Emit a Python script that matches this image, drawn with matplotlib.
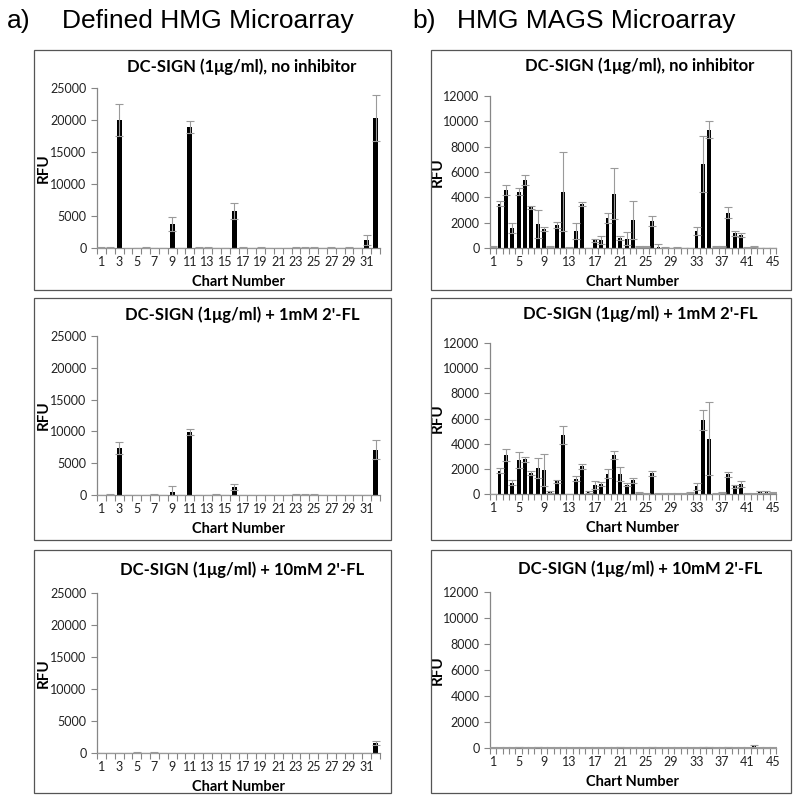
import numpy as np
import matplotlib
matplotlib.use('Agg')
import matplotlib.pyplot as plt
from matplotlib.patches import Rectangle

# ---- data: defined HMG microarray (32 glycans) ----
hmg_no_inh = [50, 100, 20000, -80, 30, 100, 30, 20, 3700, 30, 18900, 50, 80, 40, 30, 5800,
              80, 40, 60, 40, 30, 30, 50, 60, 60, 40, 80, 30, 80, 40, 1300, 20300]
hmg_no_inh_err = [30, 40, 2500, 30, 20, 40, 20, 20, 1100, 20, 1000, 30, 40, 30, 20, 1300,
                  40, 30, 30, 30, 20, 20, 30, 30, 30, 30, 40, 20, 40, 30, 800, 3600]
hmg_1mm = [40, 60, 7400, 30, 30, 30, 60, 30, 450, 30, 9900, 30, 40, 60, 30, 1250,
           40, 30, 30, 30, 40, 30, 60, 60, 60, 30, 30, 40, 40, 30, 40, 7100]
hmg_1mm_err = [20, 30, 1000, 20, 20, 20, 30, 20, 900, 20, 400, 20, 20, 30, 20, 500,
               20, 20, 20, 20, 20, 20, 30, 30, 30, 20, 20, 20, 20, 20, 20, 1500]
hmg_10mm = [40, 40, 30, 30, 80, 30, 80, 30, -50, 30, 30, 30, 30, 30, 30, 30,
            30, 30, 40, 30, 30, 50, 30, 30, 30, 30, 40, 30, 40, 30, 40, 1600]
hmg_10mm_err = [20] * 31 + [350]

# ---- data: HMG MAGS microarray (45 glycans) ----
mags_no_inh = [100, 3500, 4600, 1600, 4450, 5400, 3200, 1900, 1500, 100,
               1800, 4450, 50, 1350, 3500, 0, 600, 650, 2400, 4300,
               800, 750, 2250, 100, 100, 2150, 100, 50, 0, 50,
               0, 0, 1350, 6650, 9350, 100, 100, 2800, 1150, 1000,
               50, 100, 0, 0, 0]
mags_no_inh_err = [50, 200, 400, 400, 300, 400, 150, 1100, 150, 60,
                   250, 3100, 30, 600, 150, 20, 100, 300, 400, 2000,
                   150, 550, 1500, 60, 60, 400, 200, 30, 20, 30,
                   20, 20, 300, 2200, 650, 60, 60, 400, 200, 150,
                   30, 50, 20, 20, 20]
mags_1mm = [0, 1850, 3100, 900, 2700, 2750, 1650, 2050, 1900, 150,
            1000, 4700, 0, 1200, 2200, 150, 700, 800, 1600, 3100,
            1600, 750, 1100, 100, 50, 1650, 50, 50, 50, 50,
            50, 100, 600, 5900, 4400, 50, 100, 1550, 600, 800,
            50, 50, 150, 150, 100]
mags_1mm_err = [20, 200, 500, 200, 600, 200, 150, 800, 1300, 100,
                100, 700, 20, 200, 200, 100, 300, 150, 350, 300,
                550, 150, 200, 60, 30, 200, 30, 30, 30, 30,
                30, 60, 250, 800, 2900, 30, 60, 200, 100, 250,
                30, 30, 50, 50, 50]
mags_10mm = [30, 30, 30, 30, 60, 30, 30, 60, 30, 30,
             30, 30, 30, 30, 30, 30, 30, 30, 30, 30,
             60, 30, 30, 30, 30, 60, 30, 30, 30, 30,
             30, 30, 30, 60, 60, 30, 30, 60, 30, 30,
             30, 150, 30, 30, 30]
mags_10mm_err = [20] * 41 + [100, 20, 20, 20]

titles = ['DC-SIGN (1\u03bcg/ml), no inhibitor',
          'DC-SIGN (1\u03bcg/ml) + 1mM 2\'-FL',
          'DC-SIGN (1\u03bcg/ml) + 10mM 2\'-FL']

W, H = 800, 802
fig = plt.figure(figsize=(W / 100, H / 100), dpi=100)

def px(x0, y0, x1, y1):
    # pixel box (top-left origin) -> figure fraction rect
    return [x0 / W, 1 - y1 / H, (x1 - x0) / W, (y1 - y0) / H]

gray = '#868686'
tfont = 'Lato'

# column headings
hfs = 19
fig.text(7 / W, 1 - 21 / H, 'a)', fontsize=hfs, family='Liberation Sans', va='center')
fig.text(62 / W, 1 - 21 / H, 'Defined HMG Microarray', fontsize=hfs,
         family='Liberation Sans', va='center')
fig.text(412 / W, 1 - 21 / H, 'b)', fontsize=hfs, family='Liberation Sans', va='center')
fig.text(457 / W, 1 - 21 / H, 'HMG MAGS Microarray', fontsize=hfs,
         family='Liberation Sans', va='center')

frames_left = [(34, 50, 391, 290), (34, 298, 391, 540), (34, 550, 391, 793)]
frames_right = [(431, 50, 791, 290), (431, 298, 791, 540), (431, 550, 791, 793)]
for fr in frames_left + frames_right:
    fig.patches.append(Rectangle((fr[0] / W, 1 - fr[3] / H), (fr[2] - fr[0]) / W,
                                 (fr[3] - fr[1]) / H, transform=fig.transFigure,
                                 fill=False, edgecolor='#555555', lw=0.9))

left_axes = [(97, 88, 380, 248), (97, 336, 380, 495), (97, 593, 380, 753)]
right_axes = [(490, 96, 776, 248), (490, 343, 776, 494), (490, 592, 776, 748)]
left_data = [(hmg_no_inh, hmg_no_inh_err), (hmg_1mm, hmg_1mm_err), (hmg_10mm, hmg_10mm_err)]
right_data = [(mags_no_inh, mags_no_inh_err), (mags_1mm, mags_1mm_err), (mags_10mm, mags_10mm_err)]
title_y_left = [67, 315, 570]
title_y_right = [66, 314, 569]


def draw(box, vals, errs, title, ymax, ystep, lblstep, width, ty, tx, ylpad):
    ax = fig.add_axes(px(*box))
    n = len(vals)
    x = np.arange(1, n + 1)
    ax.bar(x, vals, width=width, color='black', zorder=2)
    ax.errorbar(x, vals, yerr=errs, fmt='none', ecolor='#9a9a9a', elinewidth=0.8,
                capsize=3, capthick=0.8, zorder=3)
    ax.set_xlim(0.5, n + 0.5)
    ax.set_ylim(0, ymax)
    ax.set_yticks(np.arange(0, ymax + 1, ystep))
    ax.set_xticks(np.arange(1, n + 1, lblstep))
    ax.set_xticks(np.arange(0.5, n + 1, 1), minor=True)
    for s in ['top', 'right']:
        ax.spines[s].set_visible(False)
    for s in ['left', 'bottom']:
        ax.spines[s].set_color(gray)
        ax.spines[s].set_linewidth(0.9)
    ax.tick_params(axis='x', which='major', length=0, pad=6, labelsize=9, labelcolor='#222222')
    ax.tick_params(axis='x', which='minor', length=4, color=gray, width=0.8)
    ax.tick_params(axis='y', length=4, color=gray, width=0.8, labelsize=9, labelcolor='#222222')
    for lab in ax.get_xticklabels() + ax.get_yticklabels():
        lab.set_family(tfont)
    ax.set_xlabel('Chart Number', fontsize=10.5, fontweight='bold', family=tfont, labelpad=5)
    ax.set_ylabel('RFU', fontsize=11, fontweight='bold', family=tfont, labelpad=ylpad)
    fig.text(tx / W, 1 - ty / H, title, fontsize=12, fontweight='bold', family=tfont,
             ha='center', va='center')
    return ax


for i in range(3):
    draw(left_axes[i], left_data[i][0], left_data[i][1], titles[i], 25000, 5000, 2,
         0.55, title_y_left[i], 242, 0)
    draw(right_axes[i], right_data[i][0], right_data[i][1], titles[i], 12000, 2000, 4,
         0.6, title_y_right[i], 640, -1)

fig.savefig('out.png', dpi=100)
